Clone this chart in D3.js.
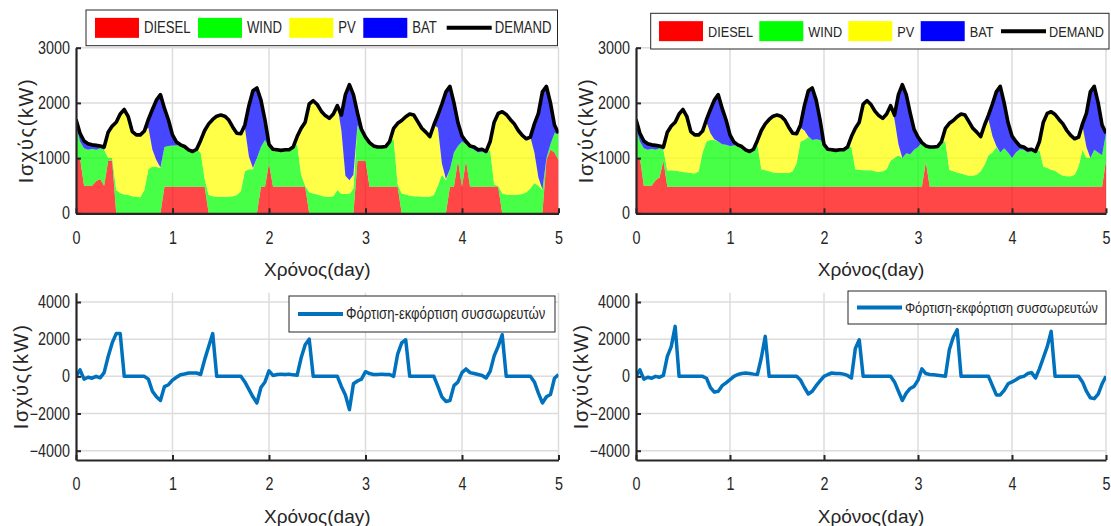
<!DOCTYPE html>
<html>
<head>
<meta charset="utf-8">
<script src="https://cdn.jsdelivr.net/npm/d3@7"></script>
<style>
  html, body { margin: 0; padding: 0; background: #fff; }
  svg { display: block; }
</style>
</head>
<body>
<svg id="fig" width="1111" height="526"></svg>
<script>
// Hourly samples over a 5-day run (index = hour, 0..120)
const hourIndex = d3.range(0, 121);

// Electrical demand (kW), shared by both scenarios
const demand = [
  1700,1450,1310,1260,1240,1230,1220,1200,1470,1580,
  1650,1800,1880,1750,1480,1420,1420,1490,1700,1880,
  2050,2150,1900,1690,1420,1290,1240,1210,1150,1120,
  1160,1320,1500,1620,1700,1760,1780,1760,1690,1560,
  1450,1440,1600,1950,2220,2270,2050,1690,1250,1160,
  1150,1140,1150,1150,1200,1390,1540,1650,1980,2040,
  1970,1850,1770,1720,1800,1950,1780,2150,2330,2150,
  1820,1520,1380,1280,1220,1200,1200,1210,1300,1540,
  1630,1680,1750,1800,1780,1660,1540,1470,1390,1600,
  1780,1980,2200,2300,2000,1640,1400,1300,1220,1200,
  1150,1160,1120,1300,1650,1810,1840,1790,1700,1620,
  1500,1410,1350,1380,1620,1810,2200,2300,2000,1600,
  1450
];

// Scenario A (left) – dispatch per source (kW)
const dieselA = [
  1000,1000,500,500,500,580,620,500,950,950,
  0,0,0,0,0,0,0,0,0,0,
  0,0,480,480,480,480,480,480,480,480,
  480,480,480,0,0,0,0,0,0,0,
  0,0,0,0,0,0,480,480,900,480,
  480,480,480,480,480,480,480,480,0,0,
  0,0,0,0,0,0,0,0,0,0,
  950,950,950,480,480,480,480,480,480,480,
  480,0,0,0,0,0,0,0,0,0,
  0,0,0,480,480,950,480,950,480,480,
  480,480,480,480,480,480,0,0,0,0,
  0,0,0,0,0,0,0,960,1150,1100,
  960
];
const windA = [
  600,300,680,650,670,570,560,650,50,50,
  420,370,340,330,310,300,290,420,800,850,
  840,820,720,740,750,750,760,730,670,640,
  680,620,140,330,310,300,300,300,300,310,
  330,400,760,800,800,1000,720,850,300,680,
  670,660,670,670,720,770,220,20,380,360,
  340,320,300,300,310,420,350,350,350,450,
  650,500,430,800,740,720,720,730,820,870,
  40,360,340,320,310,310,300,300,300,330,
  500,700,600,320,620,270,820,300,720,670,
  620,640,600,670,40,20,360,340,330,330,
  340,350,380,450,550,500,420,40,100,350,
  490
];
const pvA = [
  0,0,0,0,0,0,0,0,470,580,
  1230,1430,1540,1420,1170,1120,1130,1070,750,300,
  120,10,0,0,0,0,0,0,0,0,
  0,220,880,1290,1390,1460,1480,1460,1390,1250,
  1120,1040,790,230,20,0,0,0,0,0,
  0,0,0,0,0,140,840,1150,1600,1680,
  1630,1530,1470,1420,1490,1530,1150,330,250,250,
  0,0,0,0,0,0,0,0,0,190,
  1110,1320,1410,1480,1470,1350,1240,1170,1090,1270,
  1050,200,20,0,0,0,0,0,0,0,
  0,0,0,150,1130,1310,1480,1450,1370,1290,
  1160,1060,970,930,550,150,10,0,0,0,
  0
];
const batA = [
  100,150,130,110,70,80,40,50,0,0,
  0,0,0,0,0,0,0,0,150,730,
  1090,1320,700,470,190,60,0,0,0,0,
  0,0,0,0,0,0,0,0,0,0,
  0,0,50,920,1400,1270,850,360,50,0,
  0,0,0,0,0,0,0,0,0,0,
  0,0,0,0,0,0,280,1470,1730,1450,
  220,70,0,0,0,0,0,0,0,0,
  0,0,0,0,0,0,0,0,0,0,
  230,1080,1580,1500,900,420,100,50,20,50,
  50,40,40,0,0,0,0,0,0,0,
  0,0,0,0,520,1160,1770,1300,750,150,
  0
];

// Scenario B (right) – dispatch per source (kW)
const dieselB = [
  1000,1000,500,500,500,600,650,950,480,480,
  480,480,480,480,480,480,480,480,480,480,
  480,480,480,480,480,480,480,480,480,480,
  480,480,480,480,480,480,480,480,480,480,
  480,480,480,480,480,480,480,480,480,480,
  480,480,480,480,480,480,480,480,480,480,
  480,480,480,480,480,480,480,480,480,480,
  480,480,480,480,930,480,480,480,480,480,
  480,480,480,480,480,480,480,480,480,480,
  480,480,480,480,480,480,480,480,480,480,
  480,480,480,480,480,480,480,480,480,480,
  480,480,480,480,480,480,480,480,480,480,
  950
];
const windB = [
  550,300,680,650,670,550,530,200,290,300,
  290,280,270,260,250,240,280,620,820,850,
  850,820,770,760,740,750,760,730,670,640,
  680,770,320,300,280,260,250,250,250,250,
  280,420,820,850,900,850,860,850,770,680,
  670,660,670,670,720,720,320,310,300,300,
  300,280,270,280,320,470,520,570,520,610,
  590,670,720,800,290,720,720,730,820,820,
  310,280,260,240,220,200,200,220,280,400,
  570,620,720,620,700,620,520,620,680,670,
  620,650,610,670,370,340,310,290,240,200,
  190,190,220,370,670,520,520,670,620,570,
  500
];
const pvB = [
  0,0,0,0,0,0,0,0,700,800,
  880,1040,1130,1010,750,700,660,390,350,120,
  10,0,0,0,0,0,0,0,0,0,
  0,70,700,840,940,1020,1050,1030,960,830,
  690,540,250,170,10,0,0,0,0,0,
  0,0,0,0,0,190,740,860,1200,1260,
  1190,1090,1020,960,1000,1000,700,200,0,0,
  0,0,0,0,0,0,0,0,0,240,
  840,920,1010,1080,1080,980,860,770,630,720,
  650,300,20,0,0,0,0,0,0,0,
  0,0,0,150,800,990,1050,1020,980,940,
  830,740,650,530,430,200,0,0,0,0,
  0
];
const batB = [
  150,150,130,110,70,80,40,50,0,0,
  0,0,0,0,0,0,0,0,50,430,
  710,850,650,450,200,60,0,0,0,0,
  0,0,0,0,0,0,0,0,0,0,
  0,0,50,450,830,940,710,360,0,0,
  0,0,0,0,0,0,0,0,0,0,
  0,0,0,0,0,0,80,900,1330,1060,
  750,370,180,0,0,0,0,0,0,0,
  0,0,0,0,0,0,0,0,0,0,
  80,580,980,1200,820,540,400,200,60,50,
  50,30,30,0,0,0,0,0,0,0,
  0,0,0,0,40,610,1200,1150,900,550,
  0
];

// Battery charge (+) / discharge (-) power (kW)
const batteryA = [
  0,350,-150,-50,-100,0,-80,200,1070,1800,
  2300,2300,0,0,0,0,0,0,-150,-800,
  -1100,-1300,-550,-450,-200,-50,90,130,180,180,
  180,100,900,1610,2300,0,0,0,0,0,
  0,0,-300,-700,-1100,-1430,-600,-300,300,50,
  100,120,100,120,80,60,1000,1700,2000,0,
  0,0,0,0,0,0,-540,-1000,-1790,-400,
  -250,-150,250,150,100,100,120,100,100,0,
  1200,1800,1970,0,0,0,0,0,0,0,
  -540,-1100,-1350,-1300,-500,-300,200,400,200,150,
  100,50,-90,270,1100,1610,2240,0,0,0,
  0,0,0,0,-300,-900,-1430,-1100,-980,-100,
  90
];
const batteryB = [
  0,350,-150,-50,-100,0,-50,50,1070,1600,
  2690,0,0,0,0,0,0,0,-100,-600,
  -850,-800,-500,-350,-180,0,100,150,180,150,
  120,100,1000,2150,0,0,0,0,0,0,
  0,0,-200,-600,-950,-800,-500,-250,0,100,
  180,150,150,120,50,-90,1500,1970,0,0,
  0,0,0,0,0,0,-300,-800,-1300,-900,
  -650,-540,-200,400,150,100,80,60,30,0,
  1430,2100,2510,0,0,0,0,0,0,0,
  0,-500,-1000,-1000,-750,-400,-300,-180,-50,0,
  150,200,-90,400,1000,1600,2420,0,0,0,
  0,0,0,0,-300,-800,-1150,-1200,-950,-400,
  0
];

// Axis ticks and labels
const dayTicks = [0, 1, 2, 3, 4, 5];
const powerTicks = [0, 1000, 2000, 3000];
const batteryTicks = [-4000, -2000, 0, 2000, 4000];
const sourceKeys = ['diesel', 'wind', 'pv', 'bat'];
const sourceLabels = ['DIESEL', 'WIND', 'PV', 'BAT'];
const demandLabel = 'DEMAND';
const batteryLabel = 'Φόρτιση-εκφόρτιση συσσωρευτών';
const xTitle = 'Χρόνος(day)';
const yTitle = 'Ισχύς(kW)';

const sourceColors = { diesel: '#ff0000', wind: '#00ff00', pv: '#ffff00', bat: '#0000ff' };
const lineBlue = '#0072bd';
const ink = '#262626';
const gridColor = '#dcdcdc';
const sans = '"Liberation Sans", Arial, sans-serif';

const svg = d3.select('#fig');
let clipId = 0;

// Condense glyphs horizontally (narrow Helvetica look) with a scale transform
function condense(sel, factor) {
  sel.each(function () {
    const x = parseFloat(this.getAttribute('x')) || 0;
    this.setAttribute('x', (x / factor).toFixed(2));
    const prev = this.getAttribute('transform') || '';
    this.setAttribute('transform', (prev + ` scale(${factor},1)`).trim());
  });
}

function frame(box, yDomain, yTicks) {
  const x = d3.scaleLinear().domain([0, 5]).range([box.x0, box.x1]);
  const y = d3.scaleLinear().domain(yDomain).range([box.yb, box.yt]);
  const g = svg.append('g');

  g.append('g').selectAll('line').data(dayTicks.slice(1)).join('line')
    .attr('x1', d => x(d)).attr('x2', d => x(d))
    .attr('y1', box.yt).attr('y2', box.yb)
    .attr('stroke', gridColor).attr('stroke-width', 1.5);
  g.append('g').selectAll('line').data(yTicks.filter(v => y(v) < box.yb - 1)).join('line')
    .attr('x1', box.x0).attr('x2', box.x1)
    .attr('y1', d => y(d)).attr('y2', d => y(d))
    .attr('stroke', gridColor).attr('stroke-width', 1.5);

  const id = 'clip' + (clipId++);
  svg.append('clipPath').attr('id', id).append('rect')
    .attr('x', box.x0).attr('y', box.yt).attr('width', box.x1 - box.x0).attr('height', box.yb - box.yt);
  const plot = g.append('g').attr('clip-path', `url(#${id})`);
  const axes = svg.append('g');
  return { x, y, g, plot, axes };
}

function drawAxes(f, box, yTicks) {
  const xa = d3.axisBottom(f.x).tickValues(dayTicks).tickFormat(d3.format('d'))
    .tickSizeInner(-5).tickSizeOuter(0).tickPadding(18);
  const ya = d3.axisLeft(f.y).tickValues(yTicks).tickFormat(d3.format('d'))
    .tickSizeInner(-5).tickSizeOuter(0).tickPadding(6);
  const gx = f.axes.append('g').attr('transform', `translate(0,${box.yb})`).call(xa);
  const gy = f.axes.append('g').attr('transform', `translate(${box.x0},0)`).call(ya);
  [gx, gy].forEach(a => {
    a.select('.domain').attr('stroke', ink).attr('stroke-width', 2.2);
    a.selectAll('.tick line').attr('stroke', ink).attr('stroke-width', 2);
    const t = a.selectAll('.tick text').attr('fill', ink)
      .style('font-family', sans).style('font-size', '17.5px');
    condense(t, 0.82);
  });
  f.axes.append('text')
    .attr('x', (box.x0 + box.x1) / 2).attr('y', box.yb + 63)
    .attr('text-anchor', 'middle').attr('fill', ink)
    .style('font-family', sans).style('font-size', '19px')
    .text(xTitle);
  f.axes.append('text')
    .attr('transform', `translate(${box.ylabX},${(box.yt + box.yb) / 2}) rotate(-90)`)
    .attr('text-anchor', 'middle').attr('dominant-baseline', 'central').attr('fill', ink)
    .style('font-family', sans).style('font-size', '20px').style('letter-spacing', '1.6px')
    .text(yTitle);
}

function legendText(g, x, y, str, size) {
  const t = g.append('text').attr('x', x).attr('y', y).attr('dominant-baseline', 'central')
    .attr('fill', ink).style('font-family', sans).style('font-size', size + 'px').text(str);
  condense(t, 0.82);
}

function energyPanel(box, sources, legendBox, legendSlots, fontSize) {
  const f = frame(box, [0, 3000], powerTicks);
  const rows = hourIndex.map((h, i) => ({
    t: h / 24,
    diesel: sources.diesel[i], wind: sources.wind[i], pv: sources.pv[i], bat: sources.bat[i]
  }));
  const layers = d3.stack().keys(sourceKeys)(rows);
  const area = d3.area()
    .x(d => f.x(d.data.t)).y0(d => f.y(d[0])).y1(d => f.y(d[1]));
  f.plot.selectAll('path.layer').data(layers).join('path')
    .attr('class', 'layer').attr('d', area)
    .attr('fill', d => sourceColors[d.key]).attr('fill-opacity', 0.72);

  const line = d3.line().x((d, i) => f.x(hourIndex[i] / 24)).y(d => f.y(d));
  f.plot.append('path').datum(demand).attr('d', line)
    .attr('fill', 'none').attr('stroke', '#000').attr('stroke-width', 3.6)
    .attr('stroke-linejoin', 'round');

  drawAxes(f, box, powerTicks);

  const lg = svg.append('g');
  lg.append('rect').attr('x', legendBox.x).attr('y', legendBox.y)
    .attr('width', legendBox.w).attr('height', legendBox.h)
    .attr('fill', '#fff').attr('stroke', ink).attr('stroke-width', 1);
  const cy = legendBox.y + legendBox.h / 2;
  sourceKeys.forEach((k, i) => {
    const sx = legendBox.x + legendSlots[i];
    lg.append('rect').attr('x', sx).attr('y', cy - 10).attr('width', 44).attr('height', 20)
      .attr('fill', sourceColors[k]);
    legendText(lg, sx + 49, cy, sourceLabels[i], fontSize);
  });
  const lx = legendBox.x + legendSlots[4];
  lg.append('line').attr('x1', lx).attr('x2', lx + 45).attr('y1', cy).attr('y2', cy)
    .attr('stroke', '#000').attr('stroke-width', 4);
  legendText(lg, lx + 48, cy, demandLabel, fontSize);
}

function batteryPanel(box, values, legendBox, fontSize) {
  const f = frame(box, [-4500, 4500], batteryTicks);
  const line = d3.line().x((d, i) => f.x(hourIndex[i] / 24)).y(d => f.y(d));
  f.plot.append('path').datum(values).attr('d', line)
    .attr('fill', 'none').attr('stroke', lineBlue).attr('stroke-width', 3.5)
    .attr('stroke-linejoin', 'round');
  drawAxes(f, box, batteryTicks);

  const lg = svg.append('g');
  lg.append('rect').attr('x', legendBox.x).attr('y', legendBox.y)
    .attr('width', legendBox.w).attr('height', legendBox.h)
    .attr('fill', '#fff').attr('stroke', ink).attr('stroke-width', 1);
  const cy = legendBox.y + legendBox.h / 2;
  lg.append('line').attr('x1', legendBox.x + 9).attr('x2', legendBox.x + 54)
    .attr('y1', cy).attr('y2', cy).attr('stroke', lineBlue).attr('stroke-width', 4);
  legendText(lg, legendBox.x + 57, cy, batteryLabel, fontSize);
}

energyPanel(
  { x0: 76, x1: 558.5, yt: 47.7, yb: 213.3, ylabX: 26 },
  { diesel: dieselA, wind: windA, pv: pvA, bat: batA },
  { x: 86, y: 10, w: 471.5, h: 35.7 },
  [9, 112, 203.3, 277.3, 360.7], 16
);
energyPanel(
  { x0: 636, x1: 1106, yt: 47.7, yb: 213.3, ylabX: 586 },
  { diesel: dieselB, wind: windB, pv: pvB, bat: batB },
  { x: 650.7, y: 13.3, w: 458.3, h: 35.7 },
  [8.3, 108.6, 197.6, 270, 350.3], 15.5
);
batteryPanel(
  { x0: 76, x1: 558.5, yt: 292.7, yb: 460, ylabX: 21 },
  batteryA,
  { x: 289, y: 296, w: 266, h: 36 }, 16
);
batteryPanel(
  { x0: 636, x1: 1106, yt: 292.7, yb: 460, ylabX: 581 },
  batteryB,
  { x: 848, y: 291, w: 258, h: 33 }, 15.5
);
</script>
</body>
</html>
